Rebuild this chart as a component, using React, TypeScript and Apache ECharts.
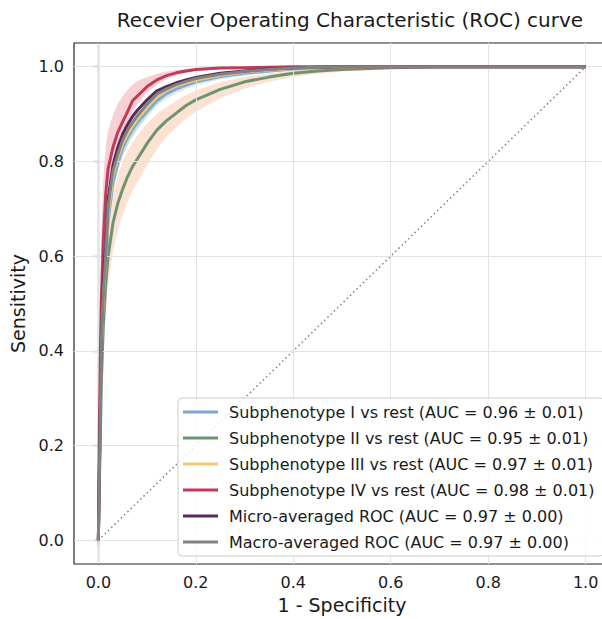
import React, { useEffect, useRef } from "react";
import * as echarts from "echarts";

const fpr = [0, 0.002, 0.004, 0.006, 0.01, 0.015, 0.02, 0.03, 0.04, 0.05, 0.06, 0.07, 0.08, 0.1, 0.12, 0.14, 0.16, 0.18, 0.2, 0.25, 0.3, 0.35, 0.4, 0.45, 0.5, 0.6, 0.7, 0.8, 0.9, 1.0];

const tprI = [0, 0.13, 0.25, 0.39, 0.5, 0.58, 0.675, 0.755, 0.797, 0.828, 0.85, 0.867, 0.882, 0.906, 0.928, 0.943, 0.953, 0.961, 0.968, 0.979, 0.986, 0.991, 0.995, 0.997, 0.999, 1, 1, 1, 1, 1];
const tprII = [0, 0.12, 0.22, 0.33, 0.45, 0.54, 0.6, 0.67, 0.712, 0.742, 0.768, 0.789, 0.805, 0.838, 0.866, 0.886, 0.902, 0.918, 0.93, 0.952, 0.968, 0.978, 0.986, 0.991, 0.994, 0.998, 1, 1, 1, 1];
const tprIII = [0, 0.14, 0.26, 0.41, 0.51, 0.595, 0.69, 0.77, 0.808, 0.838, 0.858, 0.875, 0.889, 0.914, 0.936, 0.95, 0.959, 0.966, 0.972, 0.982, 0.989, 0.993, 0.996, 0.998, 0.999, 1, 1, 1, 1, 1];
const tprIV = [0, 0.22, 0.38, 0.5, 0.63, 0.73, 0.785, 0.83, 0.862, 0.884, 0.905, 0.928, 0.938, 0.958, 0.972, 0.981, 0.987, 0.991, 0.994, 0.997, 0.998, 0.999, 1, 1, 1, 1, 1, 1, 1, 1];
const tprMicro = [0, 0.15, 0.28, 0.43, 0.54, 0.62, 0.72, 0.792, 0.83, 0.858, 0.878, 0.895, 0.908, 0.93, 0.949, 0.958, 0.966, 0.972, 0.977, 0.986, 0.991, 0.995, 0.997, 0.999, 1, 1, 1, 1, 1, 1];
const tprMacro = [0, 0.14, 0.26, 0.42, 0.52, 0.6, 0.705, 0.78, 0.815, 0.845, 0.866, 0.882, 0.896, 0.921, 0.942, 0.953, 0.962, 0.969, 0.975, 0.984, 0.99, 0.994, 0.997, 0.999, 1, 1, 1, 1, 1, 1];

const upperI = [0, 0.15, 0.28, 0.42, 0.53, 0.61, 0.7, 0.775, 0.815, 0.845, 0.866, 0.882, 0.896, 0.918, 0.939, 0.953, 0.962, 0.969, 0.975, 0.985, 0.991, 0.995, 0.998, 0.999, 1, 1, 1, 1, 1, 1];
const lowerI = [0, 0.11, 0.22, 0.36, 0.47, 0.55, 0.65, 0.735, 0.779, 0.811, 0.834, 0.852, 0.868, 0.894, 0.917, 0.933, 0.944, 0.953, 0.961, 0.973, 0.981, 0.987, 0.992, 0.995, 0.998, 1, 1, 1, 1, 1];
const upperII = [0, 0.16, 0.28, 0.4, 0.52, 0.61, 0.67, 0.73, 0.77, 0.8, 0.822, 0.84, 0.855, 0.88, 0.9, 0.915, 0.928, 0.94, 0.95, 0.967, 0.978, 0.986, 0.992, 0.995, 0.997, 0.999, 1, 1, 1, 1];
const lowerII = [0, 0.09, 0.17, 0.27, 0.39, 0.48, 0.54, 0.61, 0.655, 0.688, 0.715, 0.738, 0.756, 0.792, 0.825, 0.852, 0.872, 0.89, 0.905, 0.933, 0.954, 0.968, 0.978, 0.985, 0.99, 0.996, 0.999, 1, 1, 1];
const upperIII = [0, 0.17, 0.3, 0.45, 0.55, 0.635, 0.725, 0.8, 0.835, 0.862, 0.882, 0.898, 0.91, 0.932, 0.951, 0.962, 0.969, 0.975, 0.98, 0.988, 0.993, 0.996, 0.998, 0.999, 1, 1, 1, 1, 1, 1];
const lowerIII = [0, 0.11, 0.22, 0.37, 0.47, 0.555, 0.655, 0.74, 0.781, 0.814, 0.834, 0.852, 0.868, 0.896, 0.921, 0.938, 0.949, 0.957, 0.964, 0.976, 0.985, 0.99, 0.994, 0.997, 0.998, 1, 1, 1, 1, 1];
const upperIV = [0, 0.33, 0.52, 0.65, 0.76, 0.83, 0.865, 0.897, 0.922, 0.938, 0.951, 0.962, 0.97, 0.978, 0.985, 0.99, 0.993, 0.995, 0.997, 0.999, 1, 1, 1, 1, 1, 1, 1, 1, 1, 1];
const lowerIV = [0, 0.18, 0.33, 0.44, 0.58, 0.69, 0.75, 0.795, 0.828, 0.854, 0.88, 0.905, 0.92, 0.945, 0.962, 0.974, 0.982, 0.987, 0.991, 0.995, 0.997, 0.998, 0.999, 1, 1, 1, 1, 1, 1, 1];

const chance = [[0, 0], [1, 1]];
const tickValues = [0, 0.2, 0.4, 0.6, 0.8, 1.0];

const names = [
  "Subphenotype I vs rest (AUC = 0.96 ± 0.01)",
  "Subphenotype II vs rest (AUC = 0.95 ± 0.01)",
  "Subphenotype III vs rest (AUC = 0.97 ± 0.01)",
  "Subphenotype IV vs rest (AUC = 0.98 ± 0.01)",
  "Micro-averaged ROC (AUC = 0.97 ± 0.00)",
  "Macro-averaged ROC (AUC = 0.97 ± 0.00)",
];
const lineColors = ["#7ea8d4", "#6f9270", "#f3c977", "#c23a57", "#55285f", "#828282"];
const curves = [tprI, tprII, tprIII, tprIV, tprMicro, tprMacro];
const bands = [
  { upper: upperI, lower: lowerI, fill: "rgba(150,190,230,0.35)" },
  { upper: upperII, lower: lowerII, fill: "rgba(248,190,155,0.45)" },
  { upper: upperIII, lower: lowerIII, fill: "rgba(180,220,170,0.45)" },
  { upper: upperIV, lower: lowerIV, fill: "rgba(238,150,165,0.45)" },
];

const FONT = "'DejaVu Sans', sans-serif";
const TXT = "#1a1a1a";

export default function App() {
  const ref = useRef<HTMLDivElement>(null);
  useEffect(() => {
    if (!ref.current) return;
    const chart = echarts.init(ref.current, null, { renderer: "svg" });
    const bandSeries = bands.map((b) => ({
      type: "custom",
      silent: true,
      z: 1,
      clip: true,
      data: [[0, 0]],
      renderItem: (params: any, api: any) => {
        const top = b.upper.map((u, i) => api.coord([fpr[i], u]));
        const bot = b.lower.map((l, i) => api.coord([fpr[i], l])).reverse();
        return {
          type: "polygon",
          shape: { points: top.concat(bot) },
          style: { fill: b.fill, stroke: null },
        };
      },
    }));
    const lineSeries = curves.map((c, k) => ({
      type: "line",
      name: names[k],
      data: c.map((v, i) => [fpr[i], v]),
      showSymbol: false,
      symbol: "none",
      color: lineColors[k],
      lineStyle: { color: lineColors[k], width: 3 },
      z: 3 + k,
      silent: true,
    }));
    const gridLines = [
      ...tickValues.map((v) => ({ xAxis: v })),
      ...tickValues.map((v) => ({ yAxis: v })),
    ];
    chart.setOption({
      animation: false,
      grid: { left: 74, top: 43, width: 536, height: 521, show: true, borderColor: "#262626", borderWidth: 1.2, backgroundColor: "#fff" },
      graphic: [
        {
          type: "text",
          x: 350,
          y: 20,
          style: { text: "Recevier Operating Characteristic (ROC) curve", font: `20px ${FONT}`, fill: TXT, textAlign: "center", textVerticalAlign: "middle" },
        },
      ],
      xAxis: {
        type: "value",
        min: -0.05,
        max: 1.05,
        name: "1 - Specificity",
        nameLocation: "middle",
        nameGap: 31,
        nameTextStyle: { fontFamily: FONT, fontSize: 19, color: TXT },
        axisLine: { show: true, lineStyle: { color: "#262626", width: 1.2 } },
        axisTick: { show: true, customValues: tickValues, length: 5, lineStyle: { color: "#262626", width: 1.2 } },
        axisLabel: { customValues: tickValues, formatter: (v: number) => v.toFixed(1), fontFamily: FONT, fontSize: 16, color: TXT, margin: 10 },
        splitLine: { show: false },
      },
      yAxis: {
        type: "value",
        min: -0.05,
        max: 1.05,
        name: "Sensitivity",
        nameLocation: "middle",
        nameGap: 44,
        nameTextStyle: { fontFamily: FONT, fontSize: 19, color: TXT },
        axisLine: { show: true, lineStyle: { color: "#262626", width: 1.2 } },
        axisTick: { show: true, customValues: tickValues, length: 5, lineStyle: { color: "#262626", width: 1.2 } },
        axisLabel: { customValues: tickValues, formatter: (v: number) => v.toFixed(1), fontFamily: FONT, fontSize: 16, color: TXT, margin: 10 },
        splitLine: { show: false },
      },
      legend: {
        data: names,
        orient: "vertical",
        left: 178,
        top: 398,
        z: 20,
        padding: [6, 10, 6, 5],
        itemGap: 10,
        itemWidth: 35,
        itemHeight: 3,
        icon: "rect",
        backgroundColor: "rgba(255,255,255,0.85)",
        borderColor: "#cccccc",
        borderWidth: 1,
        borderRadius: 4,
        textStyle: { fontFamily: FONT, fontSize: 16, color: TXT, padding: [0, 0, 0, 6] },
        selectedMode: false,
      },
      series: [
        {
          type: "line",
          data: [],
          silent: true,
          z: 0,
          markLine: {
            silent: true,
            symbol: "none",
            label: { show: false },
            lineStyle: { color: "#e3e3e3", width: 1, type: "solid" },
            data: gridLines,
          },
        },
        ...bandSeries,
        {
          type: "line",
          data: chance,
          showSymbol: false,
          symbol: "none",
          silent: true,
          z: 2,
          lineStyle: { color: "#808080", width: 1.5, type: [1.5, 3] },
        },
        ...lineSeries,
      ],
    });
    return () => chart.dispose();
  }, []);
  return (
    <div style={{ position: "absolute", left: 0, top: 0, width: 602, height: 619, overflow: "hidden" }}>
      <div ref={ref} style={{ width: 620, height: 619 }} />
    </div>
  );
}
